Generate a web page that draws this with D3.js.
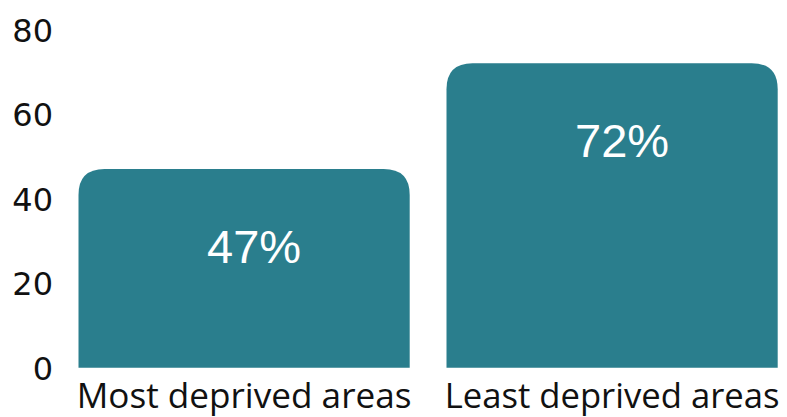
<!DOCTYPE html>
<html><head><meta charset="utf-8">
<script src="https://cdn.jsdelivr.net/npm/d3@7"></script>
<style>html,body{margin:0;padding:0;background:#fff;}svg{display:block;}</style>
</head><body>
<script>
const categories = ["Most deprived areas", "Least deprived areas"];
const values = [47, 72];
const valueLabels = ["47%", "72%"];
const yTicks = [0, 20, 40, 60, 80];

const W = 787, H = 417;
const svg = d3.select("body").append("svg").attr("width", W).attr("height", H);

const x = d3.scaleBand().domain(categories).range([78.5, 777.7]).paddingInner(0.1).paddingOuter(0);
const y = d3.scaleLinear().domain([0, 80]).range([367.7, 29.5]);
const color = "#2a7e8d";
const r = 26;

function barPath(x0, w, yTop, yBot) {
  const rr = Math.min(r, w / 2, yBot - yTop);
  return `M${x0},${yBot} L${x0},${yTop + rr} Q${x0},${yTop} ${x0 + rr},${yTop} L${x0 + w - rr},${yTop} Q${x0 + w},${yTop} ${x0 + w},${yTop + rr} L${x0 + w},${yBot} Z`;
}

svg.selectAll("path.bar").data(categories).join("path")
  .attr("class", "bar")
  .attr("fill", color)
  .attr("d", (c, i) => barPath(x(c), x.bandwidth(), y(values[i]), y(0)));

// y axis labels
const yAxis = d3.axisLeft(y).tickValues(yTicks).tickSize(0).tickPadding(0).tickFormat(d3.format("d"));
const ga = svg.append("g").attr("transform", "translate(53,0)").call(yAxis);
ga.select(".domain").remove();
ga.selectAll("text").attr("font-family", "'DejaVu Sans', sans-serif").attr("font-size", 32).attr("fill", "#111").attr("dy", "0.36em");

// category labels
const catLabels = svg.selectAll("text.cat").data(categories).join("text")
  .attr("class", "cat")
  .attr("x", c => x(c) + x.bandwidth() / 2)
  .attr("y", 408)
  .attr("text-anchor", "middle")
  .attr("font-family", "'Open Sans', sans-serif")
  .attr("font-size", 34)
  .attr("fill", "#111")
  .text(c => c);
catLabels.each(function() {
  const len = this.getComputedTextLength();
  const target = 335;
  d3.select(this).attr("font-size", 34 * target / len);
});

// value labels
svg.selectAll("text.val").data(categories).join("text")
  .attr("class", "val")
  .attr("x", c => x(c) + x.bandwidth() / 2 + 10)
  .attr("y", (c, i) => y(values[i]) + 94)
  .attr("text-anchor", "middle")
  .attr("font-family", "'Liberation Sans', Arial, sans-serif")
  .attr("font-size", 47)
  .attr("fill", "#ffffff")
  .text((c, i) => valueLabels[i]);
</script>
</body></html>
